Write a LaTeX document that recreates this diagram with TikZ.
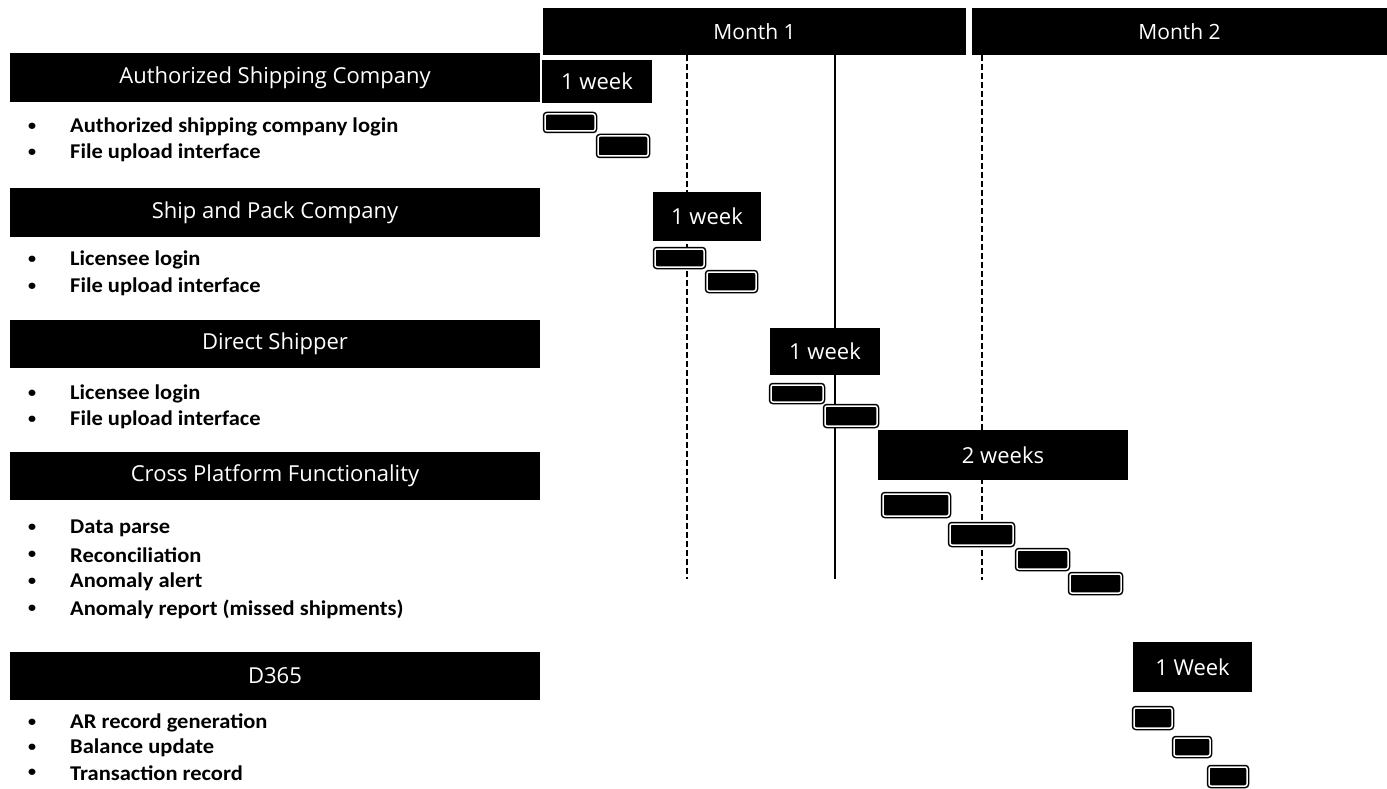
\documentclass[tikz,border=0pt]{standalone}
\usepackage{fontspec}
\newfontfamily\hfont{Open Sans}
\newfontfamily\bfont{Carlito}[FakeStretch=1.07]
\begin{document}
\begin{tikzpicture}[x=1pt,y=-1pt,
  hdr/.style={fill=black, text=white, inner sep=0, minimum width=530, font=\hfont\fontsize{22}{26}\selectfont},
  month/.style={fill=black, text=white, inner sep=0, font=\hfont\fontsize{21}{25}\selectfont},
  wk/.style={fill=black, text=white, inner sep=0, font=\hfont\fontsize{22}{26}\selectfont},
  task/.style={fill=black, draw=black, double=white, double distance=1.5pt, line width=1.5pt, rounded corners=2pt, inner sep=0},
  item/.style={anchor=west, inner sep=0, font=\bfont\bfseries\fontsize{21}{26}\selectfont},
  bul/.style={anchor=center, inner sep=0, font=\bfont\bfseries\fontsize{15}{18}\selectfont},
  vdash/.style={line width=2pt, dash pattern=on 6pt off 3pt},
  vsolid/.style={line width=2pt}]
\useasboundingbox (0,0) rectangle (1387,789);
\fill[white] (0,0) rectangle (1387,789);
% vertical guide lines
\coordinate (v1t) at (687,55); \coordinate (v1b) at (687,579);
\coordinate (v2t) at (835,55); \coordinate (v2b) at (835,579);
\coordinate (v3t) at (982,55); \coordinate (v3b) at (982,580);
\draw[vdash] (v1t) -- (v1b);
\draw[vsolid] (v2t) -- (v2b);
\draw[vdash] (v3t) -- (v3b);
% month headers
\node[month, minimum width=423, minimum height=47] (m1) at (754.5,31.5) {Month 1};
\node[month, minimum width=415, minimum height=47] (m2) at (1179.5,31.5) {Month 2};
% group headers
\node[hdr, minimum height=49] (h1) at (275,77.5) {Authorized Shipping Company};
\node[hdr, minimum height=49] (h2) at (275,212.5) {Ship and Pack Company};
\node[hdr, minimum height=48] (h3) at (275,344) {Direct Shipper};
\node[hdr, minimum height=48] (h4) at (275,476) {Cross Platform Functionality};
\node[hdr, minimum height=48] (h5) at (275,676) {D365};
% bullet items
\foreach \n/\y/\t in {a1/127/Authorized shipping company login, a2/153/File upload interface,
  b1/260/Licensee login, b2/287/File upload interface,
  c1/394/Licensee login, c2/420/File upload interface,
  d1/528/Data parse, d2/555/Reconciliation, d3/582/Anomaly alert, d4/609/Anomaly report (missed shipments),
  e1/723/AR record generation, e2/748/Balance update, e3/773/Transaction record}{
  \node[bul] (bul\n) at (32,\y) {•};
  \node[item] (txt\n) at (70,\y) {\t};
}
% week boxes
\node[wk, minimum width=110, minimum height=43] (w1) at (597,81.5) {1 week};
\node[wk, minimum width=108, minimum height=49] (w2) at (707,216.5) {1 week};
\node[wk, minimum width=110, minimum height=47] (w3) at (825,351.5) {1 week};
\node[wk, minimum width=250, minimum height=50] (w4) at (1003,455) {2 weeks};
\node[wk, minimum width=119, minimum height=50] (w5) at (1192.5,667) {1 Week};
% task boxes
\node[task, minimum width=50, minimum height=17] (ta1) at (570,122.5) {};
\node[task, minimum width=50, minimum height=20] (ta2) at (623,146) {};
\node[task, minimum width=49, minimum height=18] (tb1) at (679.5,258) {};
\node[task, minimum width=49, minimum height=19] (tb2) at (731.5,281.5) {};
\node[task, minimum width=52, minimum height=17] (tc1) at (797,393.5) {};
\node[task, minimum width=52, minimum height=20] (tc2) at (851,416) {};
\node[task, minimum width=66, minimum height=22] (td1) at (916,505) {};
\node[task, minimum width=63, minimum height=21] (td2) at (981.5,534.5) {};
\node[task, minimum width=51, minimum height=19] (td3) at (1042.5,559.5) {};
\node[task, minimum width=51, minimum height=19] (td4) at (1095.5,583.5) {};
\node[task, minimum width=38, minimum height=20] (te1) at (1153,718) {};
\node[task, minimum width=36, minimum height=18] (te2) at (1192,747) {};
\node[task, minimum width=38, minimum height=19] (te3) at (1228,776.5) {};
\end{tikzpicture}
\end{document}
